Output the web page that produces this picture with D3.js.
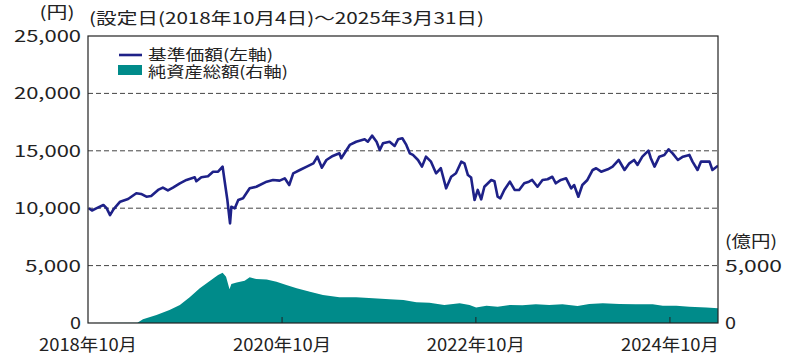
<!DOCTYPE html>
<html><head><meta charset="utf-8">
<script src="https://cdn.jsdelivr.net/npm/d3@7/dist/d3.min.js"></script>
<style>
html,body{margin:0;padding:0;background:#fff;}
svg{display:block;font-family:"Noto Sans CJK JP","Noto Sans",sans-serif;}
</style></head>
<body>
<svg id="c" width="795" height="355"></svg>
<script>
// 基準価額 (円)
const navDates = ["2018-10-04","2018-10-16","2018-11-03","2018-11-28","2018-12-10","2018-12-23","2019-01-05","2019-01-30","2019-03-01","2019-04-01","2019-04-19","2019-05-09","2019-05-27","2019-06-22","2019-07-10","2019-07-29","2019-08-17","2019-09-12","2019-10-07","2019-11-07","2019-11-13","2019-12-02","2019-12-27","2020-01-15","2020-02-03","2020-02-20","2020-02-26","2020-03-09","2020-03-19","2020-03-24","2020-04-06","2020-04-19","2020-05-07","2020-06-01","2020-06-26","2020-08-04","2020-08-28","2020-09-22","2020-10-11","2020-10-28","2020-11-12","2020-12-07","2021-01-02","2021-01-27","2021-02-11","2021-02-28","2021-03-17","2021-04-10","2021-05-05","2021-05-12","2021-06-13","2021-07-07","2021-08-08","2021-08-20","2021-09-05","2021-09-22","2021-10-04","2021-10-16","2021-11-10","2021-11-29","2021-12-12","2021-12-28","2022-01-12","2022-01-25","2022-02-06","2022-02-25","2022-03-12","2022-03-27","2022-04-15","2022-05-04","2022-05-22","2022-06-11","2022-06-30","2022-07-18","2022-08-07","2022-08-19","2022-09-01","2022-09-13","2022-09-26","2022-10-08","2022-10-21","2022-11-02","2022-11-28","2022-12-10","2022-12-22","2023-01-01","2023-01-16","2023-02-06","2023-02-24","2023-03-13","2023-04-01","2023-04-19","2023-05-01","2023-05-21","2023-06-09","2023-06-28","2023-07-16","2023-07-29","2023-08-17","2023-09-06","2023-09-25","2023-10-06","2023-10-22","2023-11-06","2023-11-25","2023-12-15","2023-12-28","2024-01-16","2024-02-10","2024-02-28","2024-03-22","2024-04-13","2024-05-01","2024-05-19","2024-06-01","2024-06-19","2024-07-12","2024-07-21","2024-08-04","2024-08-22","2024-09-10","2024-09-26","2024-10-11","2024-10-31","2024-11-19","2024-12-13","2024-12-25","2025-01-13","2025-01-26","2025-02-27","2025-03-10","2025-03-31"];
const navValues = [10000,9800,10000,10280,10000,9400,9900,10570,10800,11300,11240,11000,11060,11590,11800,11550,11790,12170,12460,12690,12350,12690,12780,13180,13180,13620,12630,10710,8680,10130,9990,10710,10860,11730,11870,12310,12460,12400,12600,12020,13040,13330,13620,13910,14490,13530,14200,14550,14780,14350,15510,15790,16000,15790,16320,15790,15070,15650,15790,15420,16000,16090,15510,14780,14640,14200,13620,14490,14050,13040,13480,11730,12740,13040,14050,13910,12890,12680,10710,11590,10770,11870,12460,12350,11000,10860,11590,12310,11590,11590,12170,12310,12460,11870,12460,12520,12740,12170,12460,12600,11730,12020,11000,12020,12460,13330,13480,13180,13390,13620,14200,13330,13910,14200,13770,14490,15010,14350,13620,14490,14640,15130,14780,14200,14490,14640,14060,13330,14060,14060,13330,13700];

// 純資産総額 (億円)
const aumDates = ["2018-10-04","2019-04-05","2019-04-26","2019-06-16","2019-08-04","2019-09-12","2019-10-19","2019-11-26","2020-01-04","2020-02-03","2020-02-20","2020-03-04","2020-03-17","2020-03-24","2020-04-13","2020-05-13","2020-06-01","2020-06-26","2020-08-04","2020-09-10","2020-10-17","2020-11-25","2021-01-14","2021-03-04","2021-05-05","2021-07-07","2021-09-09","2021-11-10","2022-01-01","2022-02-19","2022-04-09","2022-06-04","2022-08-01","2022-09-07","2022-10-02","2022-11-10","2022-12-22","2023-02-06","2023-03-25","2023-05-15","2023-07-04","2023-08-23","2023-10-19","2023-12-02","2024-01-22","2024-03-24","2024-05-25","2024-07-28","2024-09-04","2024-10-25","2024-12-13","2025-02-15","2025-03-31"];
const aumValues = [10,30,320,700,1130,1570,2240,3020,3690,4180,4380,4030,2940,3400,3520,3690,3980,3830,3800,3600,3310,3020,2730,2440,2240,2240,2150,2070,2000,1800,1770,1570,1710,1570,1340,1510,1420,1570,1540,1630,1570,1630,1480,1660,1710,1660,1630,1630,1510,1510,1420,1340,1280];

const leftTicks = [0,5000,10000,15000,20000,25000];
const leftTickLabels = ["0","5,000","10,000","15,000","20,000","25,000"];
const rightTicks = [0,5000];
const rightTickLabels = ["0","5,000"];
const xTickDates = ["2018-10-01","2020-10-01","2022-10-01","2024-10-01"];
const xTickLabels = ["2018年10月","2020年10月","2022年10月","2024年10月"];
const titleText = "(設定日(2018年10月4日)～2025年3月31日)";
const leftUnit = "(円)";
const rightUnit = "(億円)";
const legendLabels = ["基準価額(左軸)","純資産総額(右軸)"];

const parse = d3.timeParse("%Y-%m-%d");
const nav = navDates.map((d,i)=>({date:parse(d), v:navValues[i]}));
const aum = aumDates.map((d,i)=>({date:parse(d), v:aumValues[i]}));

const L=88, R=718, T=36, B=323;
const NAVY="#1e2188", TEAL="#008b8a";
const svg = d3.select("#c");
svg.append("rect").attr("width",795).attr("height",355).attr("fill","#fff");

const x = d3.scaleTime().domain([parse("2018-10-01"), parse("2025-03-31")]).range([L,R]);
const yL = d3.scaleLinear().domain([0,25000]).range([B,T]);
const yR = d3.scaleLinear().domain([0,25000]).range([B,T]);

svg.append("defs").append("clipPath").attr("id","clip")
  .append("rect").attr("x",L).attr("y",T).attr("width",R-L).attr("height",B-T);

// grid
svg.append("g").selectAll("line").data(leftTicks.filter(t=>t>0&&t<25000)).join("line")
  .attr("x1",L).attr("x2",R).attr("y1",d=>yL(d)).attr("y2",d=>yL(d))
  .attr("stroke","#444").attr("stroke-width",1).attr("stroke-dasharray","5,3");

// area
svg.append("path").datum(aum).attr("clip-path","url(#clip)")
  .attr("fill",TEAL)
  .attr("d", d3.area().x(d=>x(d.date)).y0(B).y1(d=>yR(d.v)));

// line
svg.append("path").datum(nav).attr("clip-path","url(#clip)")
  .attr("fill","none").attr("stroke",NAVY).attr("stroke-width",2.6).attr("stroke-linejoin","round")
  .attr("d", d3.line().x(d=>x(d.date)).y(d=>yL(d.v)));

// frame
svg.append("rect").attr("x",L).attr("y",T).attr("width",R-L).attr("height",B-T)
  .attr("fill","none").attr("stroke","#222").attr("stroke-width",1.2);

// x ticks (inward)
svg.append("g").selectAll("line").data(xTickDates.slice(1)).join("line")
  .attr("x1",d=>x(parse(d))).attr("x2",d=>x(parse(d))).attr("y1",B).attr("y2",B-6)
  .attr("stroke","#222").attr("stroke-width",1);

// x labels
svg.append("g").selectAll("text").data(xTickDates).join("text")
  .attr("x",(d,i)=>x(parse(d))).attr("y",351).attr("text-anchor","middle")
  .attr("font-size",17).attr("fill","#222")
  .attr("textLength",98).attr("lengthAdjust","spacingAndGlyphs")
  .text((d,i)=>xTickLabels[i]);

// left labels
svg.append("g").selectAll("text").data(leftTicks).join("text")
  .attr("x",81).attr("y",d=>yL(d)+6).attr("text-anchor","end")
  .attr("font-size",16).attr("fill","#222")
  .each(function(d,i){
    const s=leftTickLabels[i];
    const el=d3.select(this).text(s);
    el.attr("textLength", s.length===6?67:(s.length===5?56:11)).attr("lengthAdjust","spacingAndGlyphs");
  });

// right labels
svg.append("g").selectAll("text").data(rightTicks).join("text")
  .attr("x",725).attr("y",d=>yR(d)+6).attr("text-anchor","start")
  .attr("font-size",16).attr("fill","#222")
  .each(function(d,i){
    const s=rightTickLabels[i];
    d3.select(this).text(s).attr("textLength", s.length>1?57:11).attr("lengthAdjust","spacingAndGlyphs");
  });

// units & title
svg.append("text").attr("x",57).attr("y",18).attr("text-anchor","middle")
  .attr("font-size",16).attr("fill","#222").attr("textLength",35).attr("lengthAdjust","spacingAndGlyphs").text(leftUnit);
svg.append("text").attr("x",725).attr("y",247).attr("text-anchor","start")
  .attr("font-size",16).attr("fill","#222").attr("textLength",52).attr("lengthAdjust","spacingAndGlyphs").text(rightUnit);
svg.append("text").attr("x",89).attr("y",24).attr("text-anchor","start")
  .attr("font-size",16).attr("fill","#222").attr("textLength",395).attr("lengthAdjust","spacingAndGlyphs").text(titleText);

// legend
const lg = svg.append("g");
lg.append("line").attr("x1",119).attr("x2",142).attr("y1",55).attr("y2",55)
  .attr("stroke",NAVY).attr("stroke-width",2.6);
lg.append("text").attr("x",148).attr("y",60).attr("font-size",15).attr("fill","#222")
  .attr("textLength",125).attr("lengthAdjust","spacingAndGlyphs").text(legendLabels[0]);
lg.append("rect").attr("x",118).attr("y",65).attr("width",24).attr("height",10).attr("fill",TEAL);
lg.append("text").attr("x",148).attr("y",77).attr("font-size",15).attr("fill","#222")
  .attr("textLength",140).attr("lengthAdjust","spacingAndGlyphs").text(legendLabels[1]);
</script>
</body></html>
